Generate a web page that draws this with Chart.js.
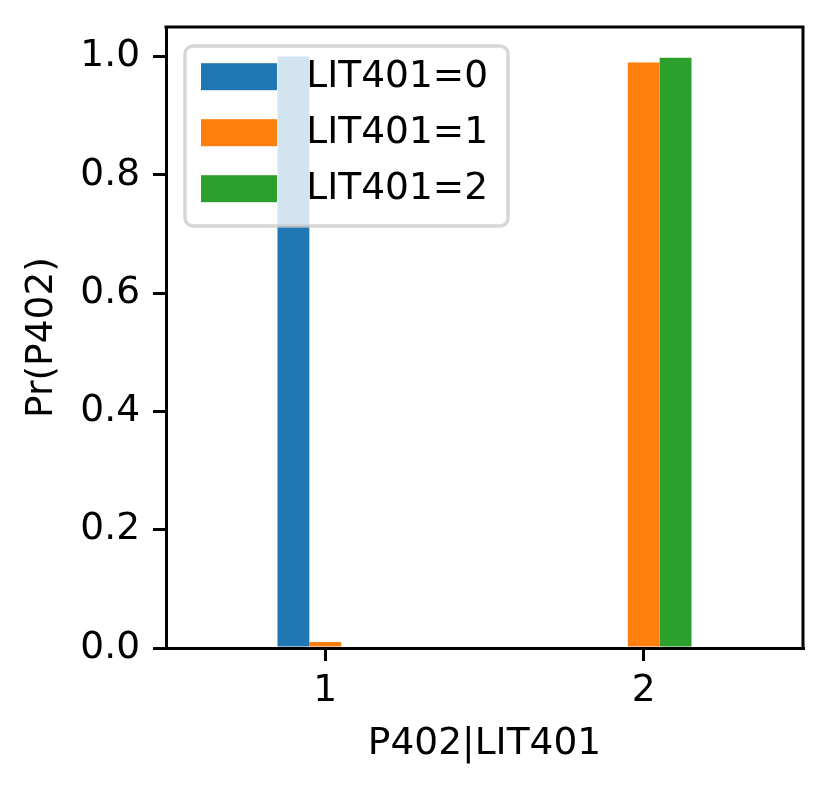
<!DOCTYPE html>
<html>
<head>
<meta charset="utf-8">
<script src="https://cdn.jsdelivr.net/npm/chart.js@4/dist/chart.umd.min.js"></script>
<style>
html,body{margin:0;padding:0;background:#fff;}
#wrap{width:832px;height:793px;}
</style>
</head>
<body>
<div id="wrap"><canvas id="c" width="832" height="793"></canvas></div>
<script>
// --- data ---
const groups=["1","2"];
const seriesNames=["LIT401=0","LIT401=1","LIT401=2"];
const lit0=[1.0,0];
const lit1=[0.01,0.99];
const lit2=[0,0.998];
const yTicks=[0,0.2,0.4,0.6,0.8,1.0];
const COLORS=["#1f77b4","#ff7f0e","#2ca02c"];

const FONT="'DejaVu Sans', sans-serif";
const FS=37.5;

// top + right spines
const spines={id:"spines",afterDraw(ch){
  const {ctx,chartArea:a}=ch;
  ctx.save();ctx.strokeStyle="#000";ctx.lineWidth=3;ctx.lineCap="square";
  ctx.beginPath();ctx.moveTo(a.left,a.top);ctx.lineTo(a.right,a.top);ctx.lineTo(a.right,a.bottom);ctx.stroke();
  ctx.restore();
}};

// matplotlib-like legend box in upper left
const mplLegend={id:"mplLegend",afterDatasetsDraw(ch){
  const ctx=ch.ctx;
  const bx=185,by=46,bw=323,bh=180,r=8;
  ctx.save();
  ctx.beginPath();ctx.roundRect(bx,by,bw,bh,r);
  ctx.fillStyle="rgba(255,255,255,0.8)";ctx.fill();
  ctx.lineWidth=3.5;ctx.strokeStyle="rgba(204,204,204,0.8)";ctx.stroke();
  ch.data.datasets.forEach((ds,i)=>{
    const cy=76.7+i*56;
    ctx.fillStyle=ds.backgroundColor;
    ctx.fillRect(201,cy-13.5,76,27);
    ctx.fillStyle="#000";ctx.font=FS+"px "+FONT;
    ctx.textAlign="left";ctx.textBaseline="middle";
    ctx.fillText(ds.label,306.3,cy+0.6);
  });
  ctx.restore();
}};

const vals=[lit0,lit1,lit2];
new Chart(document.getElementById("c"),{
  type:"bar",
  data:{labels:groups,datasets:seriesNames.map((n,i)=>({label:n,data:vals[i],backgroundColor:COLORS[i],borderWidth:0,categoryPercentage:0.3,barPercentage:1}))},
  options:{
    responsive:false,animation:false,devicePixelRatio:1,
    layout:{padding:{left:0,top:27,right:29,bottom:0}},
    plugins:{legend:{display:false},tooltip:{enabled:false}},
    scales:{
      x:{
        grid:{offset:false,drawOnChartArea:false,drawTicks:true,tickLength:13,color:"#000",lineWidth:3},
        border:{display:true,color:"#000",width:3},
        ticks:{color:"#000",font:{family:FONT,size:FS},padding:8,maxRotation:0},
        title:{display:true,text:"P402|LIT401",color:"#000",font:{family:FONT,size:FS},padding:{top:0,bottom:26.5}},
        afterFit(s){s.height=145;s.paddingLeft=0;s.paddingRight=0;}
      },
      y:{
        min:0,max:1.05,
        afterBuildTicks(s){s.ticks=yTicks.map(v=>({value:v}));},
        grid:{drawOnChartArea:false,drawTicks:true,tickLength:13,color:"#000",lineWidth:3},
        border:{display:true,color:"#000",width:3},
        ticks:{color:"#000",font:{family:FONT,size:FS},padding:13,callback:v=>v.toFixed(1)},
        title:{display:true,text:"Pr(P402)",color:"#000",font:{family:FONT,size:FS},padding:{top:19.5,bottom:0}},
        afterFit(s){s.width=166;s.paddingTop=0;s.paddingBottom=0;}
      }
    }
  },
  plugins:[mplLegend,spines]
});
</script>
</body>
</html>
